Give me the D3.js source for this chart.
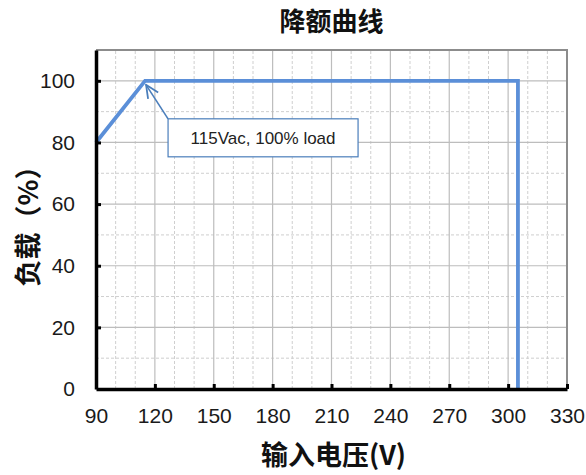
<!DOCTYPE html>
<html lang="zh">
<head>
<meta charset="UTF-8">
<title>降额曲线</title>
<style>
    body { margin: 0; background: #fff; }
    svg { display: block; }
    .tick-label { font: 21px "Liberation Sans", Arial, sans-serif; fill: #1a1a1a; }
    .cjk { font-family: "Noto Sans CJK SC", sans-serif; font-weight: bold; fill: #111; }
</style>
</head>
<body>
<div id="chart"></div>
<script src="https://cdn.jsdelivr.net/npm/d3@7/dist/d3.min.js"></script>
<script>
    // Data
    const voltage = [90, 115, 305, 305];
    const load = [80, 100, 100, 0];
    const xTicks = [90, 120, 150, 180, 210, 240, 270, 300, 330];
    const yTicks = [0, 20, 40, 60, 80, 100];
    const title = '降额曲线';
    const xLabel = '输入电压(V)';
    const yLabel = '负载（%）';
    const note = '115Vac, 100% load';
    const notePoint = [115, 100];

    const width = 586, height = 475;
    const margin = { top: 50, right: 19, bottom: 86, left: 96 };

    const x = d3.scaleLinear().domain([90, 330]).range([margin.left, width - margin.right]);
    const y = d3.scaleLinear().domain([0, 110]).range([height - margin.bottom, margin.top]);

    const svg = d3.select('#chart').append('svg')
        .attr('width', width)
        .attr('height', height);

    // Minor grid (dashed)
    const g = svg.append('g');
    g.selectAll('line.vminor')
        .data(d3.range(100, 330, 10).filter(v => (v - 90) % 30 !== 0))
        .join('line')
        .attr('x1', d => x(d)).attr('x2', d => x(d))
        .attr('y1', y(0)).attr('y2', y(110))
        .attr('stroke', '#cfcfcf').attr('stroke-dasharray', '3,2');
    g.selectAll('line.hminor')
        .data(d3.range(10, 110, 10).filter(v => v % 20 !== 0))
        .join('line')
        .attr('y1', d => y(d)).attr('y2', d => y(d))
        .attr('x1', x(90)).attr('x2', x(330))
        .attr('stroke', '#cfcfcf').attr('stroke-dasharray', '3,2');

    // Major grid (solid)
    g.append('g').selectAll('line')
        .data(xTicks.slice(1, -1))
        .join('line')
        .attr('x1', d => x(d)).attr('x2', d => x(d))
        .attr('y1', y(0)).attr('y2', y(110))
        .attr('stroke', '#bdbdbd').attr('stroke-width', 1.2);
    g.append('g').selectAll('line')
        .data(yTicks.slice(1))
        .join('line')
        .attr('y1', d => y(d)).attr('y2', d => y(d))
        .attr('x1', x(90)).attr('x2', x(330))
        .attr('stroke', '#bdbdbd').attr('stroke-width', 1.2);

    // Top and right frame
    svg.append('path')
        .attr('d', `M${x(90)},${y(110)}H${x(330)}V${y(0)}`)
        .attr('fill', 'none').attr('stroke', '#8c8c8c').attr('stroke-width', 2);

    // Data line
    const line = d3.line().x(d => x(d[0])).y(d => y(d[1]));
    svg.append('path')
        .datum(voltage.map((v, i) => [v, load[i]]))
        .attr('d', line)
        .attr('fill', 'none')
        .attr('stroke', '#5b8fd8')
        .attr('stroke-width', 3.8)
        .attr('stroke-linejoin', 'miter');

    // Axes
    const xAxis = d3.axisBottom(x).tickValues(xTicks).tickSizeInner(-5).tickSizeOuter(0).tickPadding(20);
    const yAxis = d3.axisLeft(y).tickValues(yTicks).tickSizeInner(-5).tickSizeOuter(0).tickPadding(20);

    const gx = svg.append('g').attr('transform', `translate(0,${y(0)})`).call(xAxis);
    const gy = svg.append('g').attr('transform', `translate(${x(90)},0)`).call(yAxis);
    [gx, gy].forEach(a => {
        a.select('.domain').attr('stroke', '#000').attr('stroke-width', 3.5);
        a.selectAll('.tick line').attr('stroke', '#000').attr('stroke-width', 3);
        a.selectAll('.tick text').attr('class', 'tick-label').attr('fill', null);
    });
    gx.selectAll('.tick text').attr('dy', '0.71em').attr('y', 19);
    gy.selectAll('.tick text').attr('x', -21);
    gy.selectAll('.tick').filter(d => d === 0).select('line').remove();
    gx.selectAll('.tick').filter(d => d === 90).select('line').remove();

    // Annotation callout
    const px = x(notePoint[0]) + 1, py = y(notePoint[1]) + 4;
    const bx = px + 22, by = py + 34, bw = 190, bh = 38;
    svg.append('defs').append('marker')
        .attr('id', 'arrow')
        .attr('viewBox', '0 0 16 16')
        .attr('refX', 15).attr('refY', 8)
        .attr('markerWidth', 16).attr('markerHeight', 16)
        .attr('markerUnits', 'userSpaceOnUse')
        .attr('orient', 'auto')
        .append('path')
        .attr('d', 'M2,2L15,8L2,14')
        .attr('fill', 'none').attr('stroke', '#4a7ebb').attr('stroke-width', 1.8);
    svg.append('line')
        .attr('x1', bx).attr('y1', by)
        .attr('x2', px).attr('y2', py)
        .attr('stroke', '#4a7ebb').attr('stroke-width', 1.6)
        .attr('marker-end', 'url(#arrow)');
    svg.append('rect')
        .attr('x', bx).attr('y', by)
        .attr('width', bw).attr('height', bh)
        .attr('fill', '#fff').attr('stroke', '#4a7ebb').attr('stroke-width', 1.2);
    svg.append('text')
        .attr('x', bx + bw / 2).attr('y', by + bh / 2)
        .attr('dy', '0.36em')
        .attr('text-anchor', 'middle')
        .style('font', '17px "Liberation Sans", Arial, sans-serif')
        .attr('fill', '#222')
        .text(note);

    // Titles
    svg.append('text').attr('class', 'cjk')
        .attr('x', (x(90) + x(330)) / 2).attr('y', 31)
        .attr('text-anchor', 'middle')
        .style('font-size', '26px')
        .text(title);
    svg.append('text').attr('class', 'cjk')
        .attr('x', (x(90) + x(330)) / 2 + 2).attr('y', 465)
        .attr('text-anchor', 'middle')
        .style('font-size', '27px')
        .text(xLabel);
    svg.append('text').attr('class', 'cjk')
        .attr('transform', `translate(38,${(y(0) + y(110)) / 2}) rotate(-90)`)
        .attr('text-anchor', 'middle')
        .style('font-size', '27px')
        .text(yLabel);
</script>
</body>
</html>
